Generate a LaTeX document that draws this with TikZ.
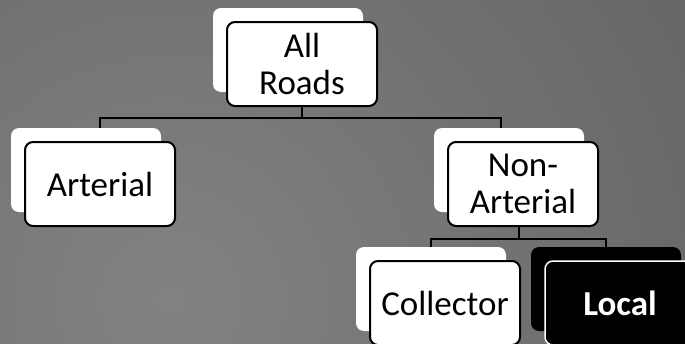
\documentclass[tikz,border=0pt]{standalone}
\usepackage{fontspec}
\setmainfont{Carlito}
\usetikzlibrary{backgrounds}
\definecolor{bgin}{gray}{0.51}
\definecolor{bgout}{gray}{0.25}
\tikzset{bk/.append style={minimum width=150pt, minimum height=84pt, rounded corners=8pt, fill=white},
  bx/.append style={bk, draw, line width=2pt, inner sep=2pt, align=center, font=\fontsize{35}{37}\selectfont},
  ln/.append style={line width=2pt}}

\begin{document}
\begin{tikzpicture}[x=1pt,y=-1pt]
                \useasboundingbox (0,0) rectangle (685,343);
                \clip (0,0) rectangle (685,343);
                \begin{pgfonlayer}{background}
                \shade[inner color=bgin, outer color=bgout] (170,300) circle (1400pt);
                \end{pgfonlayer}
                % back boxes
                \node[bk] (arb) at (288,50) {};
                \node[bk] (atb) at (86,170) {};
                \node[bk] (nab) at (509,170) {};
                \node[bk] (cob) at (431,289) {};
                \node[bk,fill=black] (lob) at (606,289) {};
                \node[bx] (ar) at ([shift={(14,14)}]arb) {All\\Roads};
                \node[bx] (at) at ([shift={(14,14)}]atb) {Arterial};
                \node[bx] (na) at ([shift={(14,14)}]nab) {Non-\\Arterial};
                \node[bx] (co) at ([shift={(14,14)}]cob) {Collector};
                \node[bx,fill=black,draw=white,line width=1.5pt,text=white,font=\fontsize{35}{37}\selectfont\bfseries] (lo) at ([shift={(14,14)}]lob) {Local};
                \begin{pgfonlayer}{background}
                \draw[ln] (ar.south) -- ++(0,11) coordinate (j1) -| (at.north);
                \draw[ln] (j1) -| ([xshift=-22pt]na.north);
                \draw[ln] ([xshift=-4pt]na.south) -- ++(0,12) coordinate (j2) -| (cob.north);
                \draw[ln] (j2) -| (lob.north);
                \end{pgfonlayer}
            \end{tikzpicture}
\end{document}
